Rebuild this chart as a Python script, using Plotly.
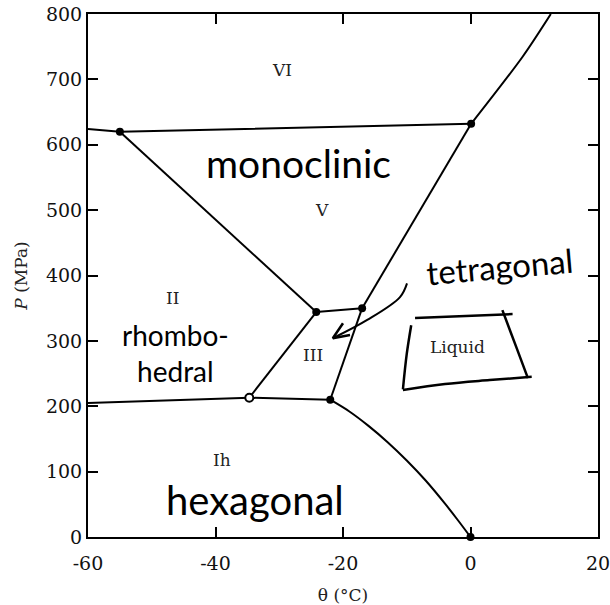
import plotly.graph_objects as go

# Phase boundaries (theta in degC, P in MPa)
ih_ii_x = [-60, -34.7]
ih_ii_y = [205, 213]
ih_iii_x = [-34.7, -22.0]
ih_iii_y = [213, 210]
ih_l_x = [-22.0, -19, -16, -13, -10, -7, -4, -2, 0]
ih_l_y = [210, 192, 170, 145, 117, 86, 51, 26, 0]
iii_l_x = [-22.0, -17.0]
iii_l_y = [210, 350]
ii_iii_x = [-34.7, -24.2]
ii_iii_y = [213, 344]
iii_v_x = [-24.2, -17.0]
iii_v_y = [344, 350]
ii_v_x = [-55, -24.2]
ii_v_y = [620, 344]
v_l_x = [-17.0, 0.1]
v_l_y = [350, 632]
vi_x = [-60, -55, 0.1]
vi_y = [624, 620, 632]
vi_l_x = [0.1, 8.2, 12.6]
vi_l_y = [632, 735, 800]

# Triple points
tp_filled_x = [-55, 0.1, -24.2, -17.0, -22.0, 0]
tp_filled_y = [620, 632, 344, 350, 210, 0]
tp_open_x = [-34.7]
tp_open_y = [213]

# Printed labels
phase_labels = ["VI", "V", "II", "III", "Ih", "Liquid"]
phase_x = [-29.6, -23.3, -46.8, -24.7, -39.0, -2.0]
phase_y = [714, 500, 365, 278, 118, 290]

# Handwritten labels
hand_labels = ["monoclinic", "rhombo-<br>hedral", "tetragonal", "hexagonal"]
hand_x = [-27.0, -46.2, 4.6, -33.8]
hand_y = [572, 281, 415, 57]
hand_angle = [0, 0, -5, 0]
hand_size = [39, 28, 33, 40]

# Hand-drawn box around "Liquid" and curved arrow
box_x = [-8.7, 6.6, None, 5.0, 7.2, 9.0, None, -10.6, -4, 3, 9.6, None, -9.3, -10.0, -10.6]
box_y = [335, 341, None, 347, 290, 243, None, 225, 234, 240, 245, None, 324, 280, 226]
arrow_x = [-9.96, -11.06, -16.2, -21.6]
arrow_y = [388, 367, 332, 304]
arrowhead_x = [-20.0, -21.6, -18.9]
arrowhead_y = [327, 304, 309]

x_ticks = [-60, -40, -20, 0, 20]
y_ticks = [0, 100, 200, 300, 400, 500, 600, 700, 800]

fig = go.Figure()
for xs, ys, shape in [
    (ih_ii_x, ih_ii_y, "linear"), (ih_iii_x, ih_iii_y, "linear"),
    (ih_l_x, ih_l_y, "spline"), (iii_l_x, iii_l_y, "linear"),
    (ii_iii_x, ii_iii_y, "linear"), (iii_v_x, iii_v_y, "linear"),
    (ii_v_x, ii_v_y, "linear"), (v_l_x, v_l_y, "linear"),
    (vi_x, vi_y, "linear"), (vi_l_x, vi_l_y, "spline"),
]:
    fig.add_trace(go.Scatter(x=xs, y=ys, mode="lines",
                             line=dict(color="black", width=2, shape=shape, smoothing=0.8),
                             hoverinfo="skip", showlegend=False, cliponaxis=False))

fig.add_trace(go.Scatter(x=box_x, y=box_y, mode="lines",
                         line=dict(color="black", width=2.5, shape="spline"),
                         showlegend=False, hoverinfo="skip"))
fig.add_trace(go.Scatter(x=arrow_x, y=arrow_y, mode="lines",
                         line=dict(color="black", width=2, shape="spline"),
                         showlegend=False, hoverinfo="skip"))
fig.add_trace(go.Scatter(x=arrowhead_x, y=arrowhead_y, mode="lines",
                         line=dict(color="black", width=2.5),
                         showlegend=False, hoverinfo="skip"))

fig.add_trace(go.Scatter(x=tp_filled_x, y=tp_filled_y, mode="markers",
                         marker=dict(color="black", size=8),
                         showlegend=False, cliponaxis=False))
fig.add_trace(go.Scatter(x=tp_open_x, y=tp_open_y, mode="markers",
                         marker=dict(color="white", size=8, line=dict(color="black", width=2)),
                         showlegend=False, cliponaxis=False))

for t, x, y in zip(phase_labels, phase_x, phase_y):
    fig.add_annotation(x=x, y=y, text=t, showarrow=False,
                       font=dict(family="DejaVu Serif", size=17, color="#222"))

for t, x, y, a, s in zip(hand_labels, hand_x, hand_y, hand_angle, hand_size):
    fig.add_annotation(x=x, y=y, text=t, showarrow=False, textangle=a,
                       font=dict(family="Comic Sans MS, Lato, sans-serif", size=s, color="black"))

axis_common = dict(showline=True, linecolor="black", linewidth=2, mirror="ticks",
                   ticks="inside", ticklen=10, tickwidth=2, tickcolor="black",
                   showgrid=False, zeroline=False, automargin=False,
                   ticklabeloverflow="allow",
                   tickfont=dict(family="DejaVu Serif", size=19, color="#111"))

fig.update_xaxes(range=[-60, 20], tickvals=x_ticks, ticktext=[str(v) for v in x_ticks],
                 ticklabelstandoff=8,
                 title=dict(text="θ (°C)", font=dict(family="DejaVu Serif", size=17, color="#222"),
                            standoff=16),
                 **axis_common)
fig.update_yaxes(range=[0, 800], tickvals=y_ticks, ticktext=[str(v) for v in y_ticks],
                 title=dict(text="<i>P</i> (MPa)", font=dict(family="DejaVu Serif", size=17, color="#222"),
                            standoff=14),
                 **axis_common)

fig.update_layout(width=610, height=605, margin=dict(l=88, r=12, t=14, b=68, autoexpand=False),
                  plot_bgcolor="white", paper_bgcolor="white", showlegend=False)

fig.write_html("out.html")
